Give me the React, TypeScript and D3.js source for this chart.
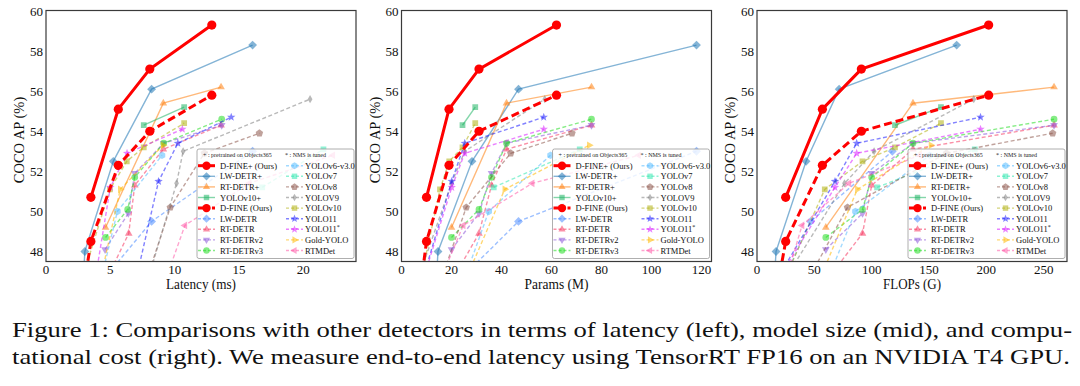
import React, { useRef, useEffect } from 'react';
import * as d3 from 'd3';

// values: latency (ms), params (M), FLOPs (G), COCO AP (%)
const dfinePlusLatency = [3.49, 5.62, 8.07, 12.89];
const dfinePlusParams = [10, 19, 31, 62];
const dfinePlusFlops = [25, 57, 91, 202];
const dfinePlusAP = [50.7, 55.1, 57.1, 59.3];

const dfineLatency = [2.12, 3.49, 5.62, 8.07, 12.89];
const dfineParams = [4, 10, 19, 31, 62];
const dfineFlops = [7, 25, 57, 91, 202];
const dfineAP = [42.8, 48.5, 52.3, 54.0, 55.8];

const lwdetrPlusLatency = [2.56, 3.02, 5.23, 8.21, 16.06];
const lwdetrPlusParams = [12.1, 14.6, 28.2, 46.8, 118];
const lwdetrPlusFlops = [11.2, 16.6, 42.8, 71.6, 174.1];
const lwdetrPlusAP = [42.6, 48.0, 52.5, 56.1, 58.3];

const lwdetrLatency = [5.23, 8.21, 16.06];
const lwdetrParams = [28.2, 46.8, 118];
const lwdetrFlops = [28.2, 46.8, 118];
const lwdetrAP = [47.2, 49.5, 53.0];

const rtdetrPlusLatency = [4.63, 9.12, 13.61];
const rtdetrPlusParams = [20, 42, 76];
const rtdetrPlusFlops = [60, 136, 259];
const rtdetrPlusAP = [49.2, 55.4, 56.2];

const yolov10PlusLatency = [7.6, 10.74];
const yolov10PlusParams = [24.4, 29.5];
const yolov10PlusFlops = [120.3, 160.4];
const yolov10PlusAP = [54.3, 55.2];

const rtdetrLatency = [4.63, 6.43, 6.9, 9.12, 13.61];
const rtdetrParams = [20, 31, 36, 42, 76];
const rtdetrFlops = [60, 92, 100, 136, 259];
const rtdetrAP = [46.5, 48.9, 51.3, 53.1, 54.3];

const rtdetrv2Latency = [4.59, 6.4, 6.9, 9.15, 13.66];
const rtdetrv2Params = [20, 31, 36, 42, 76];
const rtdetrv2Flops = [60, 92, 100, 136, 259];
const rtdetrv2AP = [48.1, 49.9, 51.9, 53.4, 54.3];

const rtdetrv3Latency = [4.63, 6.35, 6.9, 9.15, 13.66];
const rtdetrv3Params = [20, 31, 36, 42, 76];
const rtdetrv3Flops = [60, 92, 100, 136, 259];
const rtdetrv3AP = [48.7, 50.1, 51.7, 53.4, 54.6];

const yolov6Latency = [3.42, 5.55, 9.02];
const yolov6Params = [18.5, 34.9, 59.6];
const yolov6Flops = [45.3, 85.8, 150.7];
const yolov6AP = [44.3, 50.0, 52.8];

const yolov7Latency = [16.81, 21.57];
const yolov7Params = [36.9, 71.3];
const yolov7Flops = [104.7, 189.9];
const yolov7AP = [51.2, 53.1];

const yolov8Latency = [6.96, 9.66, 12.31, 16.59];
const yolov8Params = [11.2, 25.9, 43.7, 68.2];
const yolov8Flops = [28.6, 78.9, 165.2, 257.8];
const yolov8AP = [44.9, 50.2, 52.9, 53.9];

const yolov9Latency = [8.02, 10.15, 10.66, 20.53];
const yolov9Params = [7.1, 20.0, 25.3, 57.3];
const yolov9Flops = [26.4, 76.3, 102.1, 189.0];
const yolov9AP = [46.8, 51.4, 53.0, 55.6];

const yolov10Latency = [2.65, 4.97, 6.28, 7.6, 10.74];
const yolov10Params = [7.2, 15.4, 19.1, 24.4, 29.5];
const yolov10Flops = [21.6, 59.1, 92.0, 120.3, 160.4];
const yolov10AP = [46.3, 51.1, 52.5, 53.2, 54.4];

const yolo11Latency = [7.14, 8.75, 10.25, 14.4];
const yolo11Params = [9.4, 20.1, 25.3, 56.9];
const yolo11Flops = [21.5, 68.0, 86.9, 194.9];
const yolo11AP = [47.0, 51.5, 53.4, 54.7];

const yolo11sLatency = [3.9, 5.0, 6.3, 10.6];
const yolo11sParams = [9.4, 20.1, 25.3, 56.9];
const yolo11sFlops = [21.5, 68.0, 86.9, 194.9];
const yolo11sAP = [46.9, 51.2, 52.9, 54.1];

const goldLatency = [3.82, 5.77, 9.1];
const goldParams = [21.5, 41.3, 75.1];
const goldFlops = [46.0, 87.5, 151.7];
const goldAP = [45.4, 51.1, 53.3];

const rtmdetLatency = [8.2, 10.8, 15.8, 22.3];
const rtmdetParams = [8.9, 24.7, 52.3, 94.9];
const rtmdetFlops = [14.8, 39.3, 80.2, 141.7];
const rtmdetAP = [44.6, 49.3, 51.4, 52.8];

const latencyTicks = [0, 5, 10, 15, 20];
const paramsTicks = [0, 20, 40, 60, 80, 100, 120];
const flopsTicks = [0, 50, 100, 150, 200, 250];
const apTicks = [48, 50, 52, 54, 56, 58, 60];

const captionLines = [
  'Figure 1: Comparisons with other detectors in terms of latency (left), model size (mid), and compu-',
  'tational cost (right). We measure end-to-end latency using TensorRT FP16 on an NVIDIA T4 GPU.',
];

type Series = {
  name: string; lat: number[]; params: number[]; flops: number[]; ap: number[];
  color: string; dashed: boolean; marker: string; ours?: boolean; sup?: boolean;
};

const series: Series[] = [
  { name: 'D-FINE+ (Ours)', lat: dfinePlusLatency, params: dfinePlusParams, flops: dfinePlusFlops, ap: dfinePlusAP, color: '#ff0000', dashed: false, marker: 'circle', ours: true },
  { name: 'LW-DETR+', lat: lwdetrPlusLatency, params: lwdetrPlusParams, flops: lwdetrPlusFlops, ap: lwdetrPlusAP, color: '#1f77b4', dashed: false, marker: 'diamond' },
  { name: 'RT-DETR+', lat: rtdetrPlusLatency, params: rtdetrPlusParams, flops: rtdetrPlusFlops, ap: rtdetrPlusAP, color: '#ff7f0e', dashed: false, marker: 'triUp' },
  { name: 'YOLOv10+', lat: yolov10PlusLatency, params: yolov10PlusParams, flops: yolov10PlusFlops, ap: yolov10PlusAP, color: '#1fb565', dashed: false, marker: 'square' },
  { name: 'D-FINE (Ours)', lat: dfineLatency, params: dfineParams, flops: dfineFlops, ap: dfineAP, color: '#ff0000', dashed: true, marker: 'circle', ours: true },
  { name: 'LW-DETR', lat: lwdetrLatency, params: lwdetrParams, flops: lwdetrFlops, ap: lwdetrAP, color: '#4c8dff', dashed: true, marker: 'diamond' },
  { name: 'RT-DETR', lat: rtdetrLatency, params: rtdetrParams, flops: rtdetrFlops, ap: rtdetrAP, color: '#f5345f', dashed: true, marker: 'triUp' },
  { name: 'RT-DETRv2', lat: rtdetrv2Latency, params: rtdetrv2Params, flops: rtdetrv2Flops, ap: rtdetrv2AP, color: '#8a55d8', dashed: true, marker: 'triDown' },
  { name: 'RT-DETRv3', lat: rtdetrv3Latency, params: rtdetrv3Params, flops: rtdetrv3Flops, ap: rtdetrv3AP, color: '#22dd22', dashed: true, marker: 'circle' },
  { name: 'YOLOv6-v3.0', lat: yolov6Latency, params: yolov6Params, flops: yolov6Flops, ap: yolov6AP, color: '#55bbff', dashed: true, marker: 'hexagon' },
  { name: 'YOLOv7', lat: yolov7Latency, params: yolov7Params, flops: yolov7Flops, ap: yolov7AP, color: '#33e8b0', dashed: true, marker: 'square' },
  { name: 'YOLOv8', lat: yolov8Latency, params: yolov8Params, flops: yolov8Flops, ap: yolov8AP, color: '#8c564b', dashed: true, marker: 'pentagon' },
  { name: 'YOLOV9', lat: yolov9Latency, params: yolov9Params, flops: yolov9Flops, ap: yolov9AP, color: '#7f7f7f', dashed: true, marker: 'thinDiamond' },
  { name: 'YOLOv10', lat: yolov10Latency, params: yolov10Params, flops: yolov10Flops, ap: yolov10AP, color: '#b0b010', dashed: true, marker: 'square' },
  { name: 'YOLO11', lat: yolo11Latency, params: yolo11Params, flops: yolo11Flops, ap: yolo11AP, color: '#1c1cff', dashed: true, marker: 'star' },
  { name: 'YOLO11', lat: yolo11sLatency, params: yolo11sParams, flops: yolo11sFlops, ap: yolo11sAP, color: '#d81cff', dashed: true, marker: 'star', sup: true },
  { name: 'Gold-YOLO', lat: goldLatency, params: goldParams, flops: goldFlops, ap: goldAP, color: '#ffb800', dashed: true, marker: 'triRight' },
  { name: 'RTMDet', lat: rtmdetLatency, params: rtmdetParams, flops: rtmdetFlops, ap: rtmdetAP, color: '#ff5aa8', dashed: true, marker: 'triLeft' },
];

const W = 1080;
const H = 386;
const plotW = 310;
const plotTop = 10.5;
const plotBottom = 261.5;
const serif = "'Liberation Serif', 'Times New Roman', Times, serif";

const panels = [
  { key: 'lat', left: 46, max: 24.1, ticks: latencyTicks, label: 'Latency (ms)', labelLen: 70 },
  { key: 'params', left: 401.5, max: 124, ticks: paramsTicks, label: 'Params (M)', labelLen: 64 },
  { key: 'flops', left: 757, max: 270.3, ticks: flopsTicks, label: 'FLOPs (G)', labelLen: 58 },
] as const;

function regPoly(n: number, r: number, rotDeg: number) {
  const pts: string[] = [];
  for (let i = 0; i < n; i++) {
    const a = (rotDeg + (360 / n) * i) * Math.PI / 180;
    pts.push(`${(r * Math.cos(a)).toFixed(2)},${(r * Math.sin(a)).toFixed(2)}`);
  }
  return 'M' + pts.join('L') + 'Z';
}

function markerPath(kind: string, r: number) {
  switch (kind) {
    case 'circle': return d3.symbol(d3.symbolCircle, Math.PI * r * r)()!;
    case 'square': return regPoly(4, r * 1.2, 45);
    case 'diamond': return regPoly(4, r * 1.3, -90);
    case 'thinDiamond': return `M0,${-r * 1.2}L${r * 0.7},0L0,${r * 1.2}L${-r * 0.7},0Z`;
    case 'triUp': return regPoly(3, r * 1.3, -90);
    case 'triDown': return regPoly(3, r * 1.3, 90);
    case 'triLeft': return regPoly(3, r * 1.3, 180);
    case 'triRight': return regPoly(3, r * 1.3, 0);
    case 'hexagon': return regPoly(6, r * 1.1, -90);
    case 'pentagon': return regPoly(5, r * 1.15, -90);
    case 'star': {
      const pts: string[] = [];
      for (let i = 0; i < 10; i++) {
        const rr = i % 2 === 0 ? r * 1.3 : r * 0.55;
        const a = (-90 + 36 * i) * Math.PI / 180;
        pts.push(`${(rr * Math.cos(a)).toFixed(2)},${(rr * Math.sin(a)).toFixed(2)}`);
      }
      return 'M' + pts.join('L') + 'Z';
    }
    default: return d3.symbol(d3.symbolCircle, Math.PI * r * r)()!;
  }
}

const App: React.FC = () => {
  const svgRef = useRef<SVGSVGElement>(null);

  useEffect(() => {
    if (!svgRef.current) return;
    const svg = d3.select(svgRef.current);
    svg.selectAll('*').remove();

    const y = d3.scaleLinear().domain([47.5, 60.0]).range([plotBottom, 11]);
    const defs = svg.append('defs');

    // draw order: others first, ours on top
    const drawOrder = [...series.filter(s => !s.ours), ...series.filter(s => s.ours).reverse()];

    panels.forEach((p, pi) => {
      const x = d3.scaleLinear().domain([0, p.max]).range([p.left, p.left + plotW]);
      const clipId = `clip-${pi}`;
      defs.append('clipPath').attr('id', clipId)
        .append('rect').attr('x', p.left).attr('y', plotTop).attr('width', plotW).attr('height', plotBottom - plotTop);

      const g = svg.append('g').attr('clip-path', `url(#${clipId})`);

      drawOrder.forEach(s => {
        const xs = s[p.key as 'lat' | 'params' | 'flops'];
        const pts = xs.map((v, i) => [x(v), y(s.ap[i])] as [number, number]);
        const op = s.ours ? 1 : 0.55;
        g.append('path')
          .attr('d', d3.line()(pts))
          .attr('fill', 'none')
          .attr('stroke', s.color)
          .attr('stroke-opacity', op)
          .attr('stroke-width', s.ours ? 3 : 1.4)
          .attr('stroke-dasharray', s.dashed ? (s.ours ? '8,4' : '4,2.5') : null);
        const r = s.ours ? 4.6 : 3.4;
        g.selectAll(null).data(pts).enter().append('path')
          .attr('d', markerPath(s.marker, r))
          .attr('transform', d => `translate(${d[0]},${d[1]})`)
          .attr('fill', s.color)
          .attr('fill-opacity', op)
          .attr('stroke', 'none');
      });

      // frame
      svg.append('rect')
        .attr('x', p.left).attr('y', plotTop)
        .attr('width', plotW).attr('height', plotBottom - plotTop)
        .attr('fill', 'none').attr('stroke', '#3a3a3a').attr('stroke-width', 1.2);

      // tick labels
      apTicks.forEach(t => {
        svg.append('text')
          .attr('x', p.left - 3).attr('y', y(t)).attr('dy', '0.35em')
          .attr('text-anchor', 'end')
          .attr('font-family', serif).attr('font-size', 13).attr('fill', '#111')
          .text(t);
      });
      p.ticks.forEach(t => {
        svg.append('text')
          .attr('x', x(t)).attr('y', 274)
          .attr('text-anchor', 'middle')
          .attr('font-family', serif).attr('font-size', 13).attr('fill', '#111')
          .text(t);
      });

      // axis labels
      svg.append('text')
        .attr('x', p.left + plotW / 2 - p.labelLen / 2).attr('y', 289)
        .attr('textLength', p.labelLen).attr('lengthAdjust', 'spacingAndGlyphs')
        .attr('font-family', serif).attr('font-size', 15).attr('fill', '#111')
        .text(p.label);
      svg.append('text')
        .attr('transform', `translate(${p.left - 22}, ${(plotTop + plotBottom) / 2 + 4}) rotate(-90)`)
        .attr('text-anchor', 'middle')
        .attr('font-family', serif).attr('font-size', 14.5).attr('fill', '#111')
        .text('COCO AP (%)');

      // legend
      const lw = 157;
      const lx = p.left + plotW - 2 - lw;
      const ly = 149;
      const legend = svg.append('g');
      legend.append('rect')
        .attr('x', lx).attr('y', ly).attr('width', lw).attr('height', plotBottom - 3 - ly)
        .attr('rx', 2)
        .attr('fill', 'white').attr('fill-opacity', 0.8)
        .attr('stroke', '#9a9a9a').attr('stroke-width', 0.8);
      legend.append('text')
        .attr('x', lx + 6).attr('y', ly + 7.5)
        .attr('font-family', serif).attr('font-size', 6).attr('fill', '#222')
        .text('+ : pretrained on Objects365');
      legend.append('text')
        .attr('x', lx + 88).attr('y', ly + 7.5)
        .attr('font-family', serif).attr('font-size', 6).attr('fill', '#222')
        .text('* : NMS is tuned');

      series.forEach((s, i) => {
        const col = i < 9 ? 0 : 1;
        const row = i % 9;
        const cy = 165.7 + row * 10.6;
        const x0 = lx + (col === 0 ? 1 : 89);
        const x1 = x0 + 17;
        const op = s.ours ? 1 : 0.55;
        legend.append('line')
          .attr('x1', x0).attr('x2', x1).attr('y1', cy).attr('y2', cy)
          .attr('stroke', s.color).attr('stroke-opacity', op)
          .attr('stroke-width', s.ours ? 3 : 1.4)
          .attr('stroke-dasharray', s.dashed ? (s.ours ? '5,2' : '3,2') : null);
        legend.append('path')
          .attr('d', markerPath(s.marker, s.ours ? 4.2 : 3.2))
          .attr('transform', `translate(${(x0 + x1) / 2},${cy})`)
          .attr('fill', s.color).attr('fill-opacity', op);
        const t = legend.append('text')
          .attr('x', x0 + (col === 0 ? 22 : 19)).attr('y', cy + 3)
          .attr('font-family', serif).attr('font-size', 8.5).attr('fill', '#111')
          .text(s.name);
        if (s.sup) {
          t.append('tspan').attr('dy', -3).attr('font-size', 6).text('*');
        }
      });
    });

    // caption
    const capBase = [337, 364];
    captionLines.forEach((line, i) => {
      svg.append('text')
        .attr('x', 12).attr('y', capBase[i])
        .attr('textLength', i === 0 ? 1060 : 1058)
        .attr('lengthAdjust', 'spacingAndGlyphs')
        .attr('font-family', serif).attr('font-size', 21).attr('fill', '#111')
        .text(line);
    });
  }, []);

  return (
    <svg ref={svgRef} width={W} height={H}
      style={{ position: 'absolute', left: 0, top: 0, background: 'white' }} />
  );
};

export default App;
